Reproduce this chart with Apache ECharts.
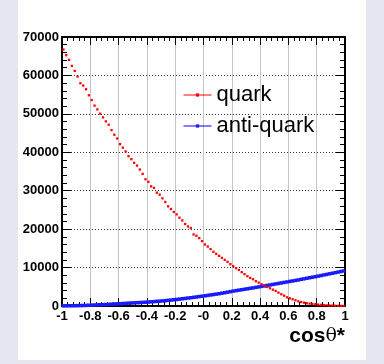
<!DOCTYPE html>
<html>
<head>
<meta charset="utf-8">
<script src="https://cdn.jsdelivr.net/npm/echarts@6/dist/echarts.min.js"></script>
<style>
  html, body { margin: 0; padding: 0; background: #e6e6f1; }
  #chart { width: 384px; height: 364px; }
</style>
</head>
<body>
<div id="chart"></div>
<script>
// Histogram binning of cos(theta*): 100 bins from -1 to 1
const binLow = -1;
const binWidth = 0.02;

// Event counts per bin
const quarkCounts = [
  66760, 65270, 64050, 62480, 61180, 59710, 57960, 57360, 56400, 54830,
  53600, 52140, 51170, 50050, 49090, 48040, 47180, 45770, 44570, 43600,
  42120, 41200, 40210, 38980, 38200, 37260, 36550, 35510, 34390, 32980,
  32300, 31150, 30730, 29500, 28980, 28020, 27080, 25930, 25240, 24460,
  23840, 22980, 22270, 21330, 20700, 20290, 18620, 18280, 17680, 16890,
  16010, 15480, 14800, 14100, 13580, 13050, 12530, 12010, 11490, 10890,
  10370, 9840, 9400, 8800, 8280, 7750, 7310, 6970, 6450, 6080,
  5670, 5300, 4960, 4620, 4250, 3920, 3480, 3050, 2700, 2260,
  2000, 1740, 1480, 1220, 1040, 870, 700, 610, 520, 440,
  350, 300, 240, 190, 140, 100, 70, 40, 20, 8
];
const antiQuarkCounts = [
  40, 55, 60, 75, 80, 100, 110, 135, 160, 195,
  230, 255, 295, 320, 355, 390, 425, 475, 505, 555,
  590, 645, 690, 735, 785, 820, 865, 895, 945, 980,
  1020, 1085, 1135, 1205, 1255, 1325, 1385, 1465, 1535, 1625,
  1700, 1785, 1885, 1965, 2065, 2145, 2255, 2345, 2455, 2545,
  2655, 2755, 2875, 2975, 3095, 3195, 3335, 3455, 3605, 3735,
  3885, 3995, 4125, 4235, 4365, 4475, 4605, 4715, 4845, 4965,
  5105, 5215, 5355, 5475, 5615, 5735, 5875, 5995, 6135, 6255,
  6395, 6515, 6655, 6785, 6935, 7065, 7215, 7345, 7495, 7625,
  7775, 7915, 8075, 8215, 8375, 8515, 8675, 8815, 8975, 9120
];

const xTickLabels = ['-1', '-0.8', '-0.6', '-0.4', '-0.2', '-0', '0.2', '0.4', '0.6', '0.8', '1'];
const yTickLabels = ['0', '10000', '20000', '30000', '40000', '50000', '60000', '70000'];

const seriesNames = ['quark', 'anti-quark'];

function toPoints(counts) {
  return counts.map((c, i) => [binLow + (i + 0.5) * binWidth, c]);
}

const font = 'Liberation Sans, Arial, Helvetica, sans-serif';

const chart = echarts.init(document.getElementById('chart'), null, { renderer: 'canvas' });

const xBase = {
  type: 'value', min: -1, max: 1, interval: 0.2,
  axisLine: { show: true, onZero: false, lineStyle: { color: '#000', width: 2 } },
  axisTick: { show: true, inside: true, length: 8, lineStyle: { color: '#000', width: 1 } },
  minorTick: { show: true, splitNumber: 5, length: 4, lineStyle: { color: '#000', width: 1 } }
};
const yBase = {
  type: 'value', min: 0, max: 70000, interval: 10000,
  axisLine: { show: true, onZero: false, lineStyle: { color: '#000', width: 2 } },
  axisTick: { show: true, inside: true, length: 9, lineStyle: { color: '#000', width: 1 } },
  minorTick: { show: true, splitNumber: 5, length: 5, lineStyle: { color: '#000', width: 1 } }
};

chart.setOption({
  animation: false,
  backgroundColor: '#e6e6f1',
  graphic: [{
    type: 'rect', z: -10, silent: true,
    shape: { x: 18, y: 0, width: 348, height: 360 },
    style: { fill: '#ffffff' }
  }],
  grid: { left: 62, right: 39, top: 37, bottom: 58, containLabel: false },
  legend: {
    orient: 'vertical', left: 178, top: 79,
    itemWidth: 28, itemHeight: 4, itemGap: 9,
    textStyle: { fontFamily: font, fontSize: 22, color: '#000', lineHeight: 22 },
    data: [
      { name: seriesNames[0], lineStyle: { opacity: 1, width: 1, color: '#ff0000' } },
      { name: seriesNames[1], lineStyle: { opacity: 1, width: 1, color: '#0000ff' } }
    ]
  },
  xAxis: [
    Object.assign({}, xBase, {
      position: 'bottom',
      axisLabel: {
        show: true, margin: 4, color: '#000', fontFamily: font, fontWeight: 'bold', fontSize: 13,
        formatter: v => xTickLabels[Math.round((v + 1) / 0.2)]
      },
      splitLine: { show: true, lineStyle: { color: '#c4c4c4', width: 1, type: 'solid' } },
      name: '{b|cos}{t|θ}{b|*}',
      nameLocation: 'end', nameGap: 0,
      nameTextStyle: {
        align: 'right', verticalAlign: 'top', padding: [20, 0, 0, 0],
        rich: {
          b: { fontFamily: font, fontWeight: 'bold', fontSize: 21, color: '#000' },
          t: { fontFamily: 'DejaVu Serif, serif', fontSize: 19, color: '#000' }
        }
      }
    }),
    Object.assign({}, xBase, {
      position: 'top',
      axisLabel: { show: false },
      splitLine: { show: false }
    })
  ],
  yAxis: [
    Object.assign({}, yBase, {
      position: 'left',
      axisLabel: {
        show: true, margin: 3, color: '#000', fontFamily: font, fontWeight: 'bold', fontSize: 13,
        formatter: v => yTickLabels[Math.round(v / 10000)]
      },
      splitLine: { show: true, lineStyle: { color: '#333', width: 1, type: [1, 2] } }
    }),
    Object.assign({}, yBase, {
      position: 'right',
      axisLabel: { show: false },
      splitLine: { show: false }
    })
  ],
  series: [
    {
      name: seriesNames[0], type: 'line', xAxisIndex: 0, yAxisIndex: 0,
      data: toPoints(quarkCounts),
      symbol: 'rect', symbolSize: 2.3, showSymbol: true,
      itemStyle: { color: '#ff0000' },
      lineStyle: { color: '#ff0000', width: 1, opacity: 0 },
      z: 3
    },
    {
      name: seriesNames[1], type: 'line', xAxisIndex: 0, yAxisIndex: 0,
      data: toPoints(antiQuarkCounts),
      symbol: 'rect', symbolSize: 3.5, showSymbol: true,
      itemStyle: { color: '#1a1aff' },
      lineStyle: { color: '#0000ff', width: 1 },
      z: 2
    }
  ]
});
</script>
</body>
</html>
